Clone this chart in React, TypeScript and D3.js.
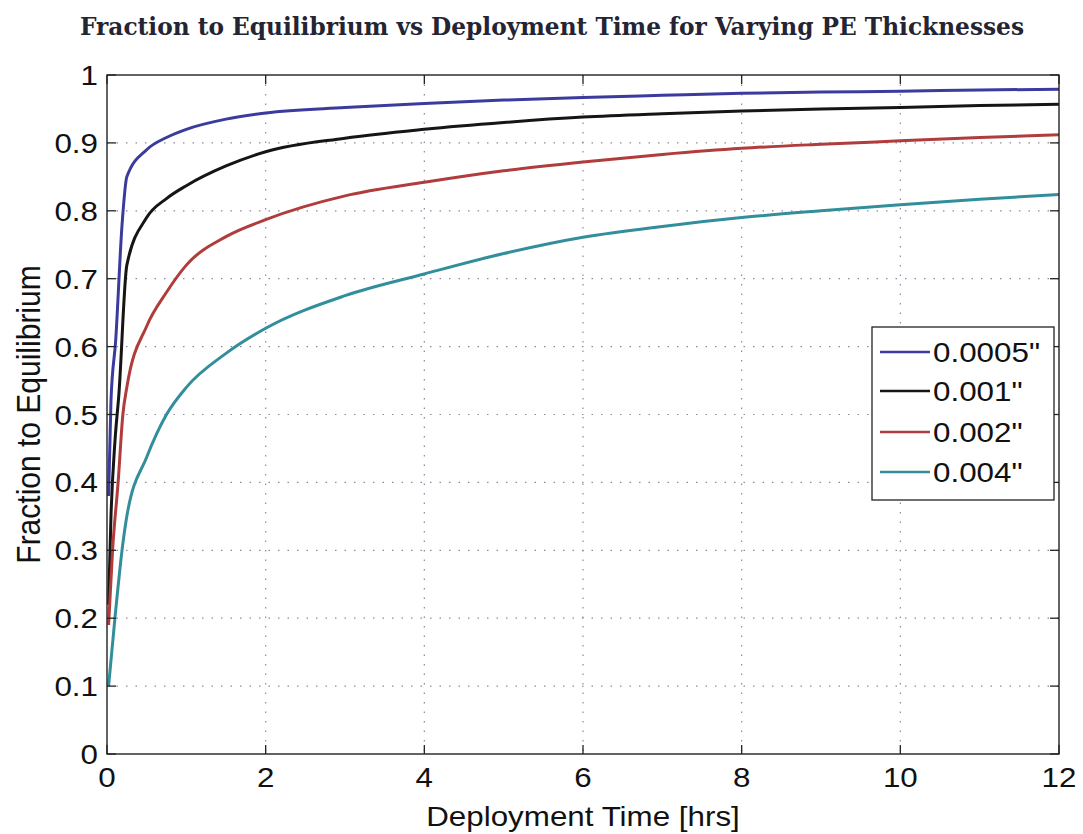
import React from "react";
import * as d3 from "d3";

const title = "Fraction to Equilibrium vs Deployment Time for Varying PE Thicknesses";
const xLabel = "Deployment Time [hrs]";
const yLabel = "Fraction to Equilibrium";

const xTicks = [0, 2, 4, 6, 8, 10, 12];
const yTicks = [0, 0.1, 0.2, 0.3, 0.4, 0.5, 0.6, 0.7, 0.8, 0.9, 1];

const seriesNames = ['0.0005"', '0.001"', '0.002"', '0.004"'];
const seriesColors = ["#3b3b9e", "#151515", "#b03c3c", "#338e9c"];

const tBlue = [0.02, 0.05, 0.11, 0.19, 0.25, 0.5, 0.75, 1, 1.5, 2, 3, 4, 5, 6, 7, 8, 9, 10, 11, 12];
const vBlue = [0.38, 0.52, 0.61, 0.78, 0.85, 0.89, 0.908, 0.92, 0.935, 0.944, 0.952, 0.958, 0.963, 0.967, 0.970, 0.973, 0.975, 0.976, 0.978, 0.979];

const tBlack = [0.02, 0.05, 0.1, 0.15, 0.25, 0.5, 0.75, 1, 1.5, 2, 3, 4, 5, 6, 7, 8, 9, 10, 11, 12];
const vBlack = [0.22, 0.35, 0.46, 0.53, 0.72, 0.79, 0.818, 0.837, 0.866, 0.887, 0.907, 0.92, 0.93, 0.938, 0.943, 0.947, 0.95, 0.952, 0.955, 0.957];

const tRed = [0.02, 0.07, 0.14, 0.2, 0.25, 0.5, 0.75, 1, 1.5, 2, 3, 4, 5, 6, 7, 8, 9, 10, 11, 12];
const vRed = [0.19, 0.3, 0.4, 0.5, 0.54, 0.63, 0.68, 0.72, 0.762, 0.787, 0.822, 0.842, 0.859, 0.872, 0.883, 0.892, 0.898, 0.903, 0.908, 0.912];

const tCyan = [0.02, 0.1, 0.2, 0.25, 0.5, 0.75, 1, 1.5, 2, 3, 4, 5, 6, 7, 8, 9, 10, 11, 12];
const vCyan = [0.1, 0.2, 0.31, 0.35, 0.437, 0.5, 0.54, 0.59, 0.627, 0.675, 0.707, 0.737, 0.761, 0.777, 0.79, 0.8, 0.809, 0.817, 0.824];

const seriesT = [tBlue, tBlack, tRed, tCyan];
const seriesV = [vBlue, vBlack, vRed, vCyan];

const FONT = "'Liberation Sans', Arial, sans-serif";
const SX = 1.12;

function SText(props: { x: number; y: number; anchor?: string; dy?: string; size?: number; children: React.ReactNode }) {
  const { x, y, anchor = "start", dy = "0", size = 28, children } = props;
  return (
    <text
      transform={`translate(${x},${y}) scale(${SX},1)`}
      dy={dy}
      textAnchor={anchor}
      fontFamily={FONT}
      fontSize={size}
      fill="#111"
    >
      {children}
    </text>
  );
}

export default function App() {
  const W = 1083, H = 834;
  const m = { left: 107, right: 1059, top: 75, bottom: 754 };
  const x = d3.scaleLinear().domain([0, 12]).range([m.left, m.right]);
  const y = d3.scaleLinear().domain([0, 1]).range([m.bottom, m.top]);
  const line = d3.line<[number, number]>()
    .x((d) => x(d[0]))
    .y((d) => y(d[1]))
    .curve(d3.curveMonotoneX);
  const tickLen = 9;
  const gridStyle = { stroke: "#8a8aa0", strokeWidth: 1.2, strokeDasharray: "1.5,8" };

  const legend = { x0: 872, y0: 327, x1: 1054, y1: 500, rows: [352, 391, 432, 472] };

  return (
    <svg width={W} height={H} style={{ position: "absolute", left: 0, top: 0, background: "#fff" }}>
      <rect x={0} y={0} width={W} height={H} fill="#fff" />
      <text
        x={552}
        y={35}
        textAnchor="middle"
        fontFamily="'DejaVu Serif Condensed', 'DejaVu Serif', serif"
        fontStretch="condensed"
        fontWeight="bold"
        fontSize={25}
        fill="#242433"
        textLength={944}
        lengthAdjust="spacingAndGlyphs"
      >
        {title}
      </text>
      {/* grid */}
      {xTicks.slice(1, -1).map((t) => (
        <line key={"gx" + t} x1={x(t)} x2={x(t)} y1={m.top} y2={m.bottom} style={gridStyle} />
      ))}
      {yTicks.slice(1, -1).map((t) => (
        <line key={"gy" + t} x1={m.left} x2={m.right} y1={y(t)} y2={y(t)} style={gridStyle} />
      ))}
      {/* series */}
      {seriesT.map((ts, i) => (
        <path
          key={"s" + i}
          d={line(ts.map((t, j) => [t, seriesV[i][j]] as [number, number])) || ""}
          fill="none"
          stroke={seriesColors[i]}
          strokeWidth={3}
          strokeLinejoin="round"
        />
      ))}
      {/* frame */}
      <rect x={m.left} y={m.top} width={m.right - m.left} height={m.bottom - m.top} fill="none" stroke="#222" strokeWidth={1.4} />
      {/* ticks */}
      {xTicks.map((t) => (
        <g key={"tx" + t}>
          <line x1={x(t)} x2={x(t)} y1={m.bottom} y2={m.bottom - tickLen} stroke="#222" strokeWidth={1.3} />
          <line x1={x(t)} x2={x(t)} y1={m.top} y2={m.top + tickLen} stroke="#222" strokeWidth={1.3} />
          <SText x={x(t)} y={787} anchor="middle">{d3.format("d")(t)}</SText>
        </g>
      ))}
      {yTicks.map((t) => (
        <g key={"ty" + t}>
          <line x1={m.left} x2={m.left + tickLen} y1={y(t)} y2={y(t)} stroke="#222" strokeWidth={1.3} />
          <line x1={m.right} x2={m.right - tickLen} y1={y(t)} y2={y(t)} stroke="#222" strokeWidth={1.3} />
          <SText x={98} y={y(t)} anchor="end" dy="0.36em">
            {t === 0 || t === 1 ? String(t) : d3.format(".1f")(t)}
          </SText>
        </g>
      ))}
      {/* axis labels */}
      <SText x={x(6)} y={826} anchor="middle">{xLabel}</SText>
      <text
        transform={`translate(40,${(m.top + m.bottom) / 2}) rotate(-90) scale(1,${SX})`}
        textAnchor="middle"
        fontFamily={FONT}
        fontSize={30}
        fill="#111"
      >
        {yLabel}
      </text>
      {/* legend */}
      <rect x={legend.x0} y={legend.y0} width={legend.x1 - legend.x0} height={legend.y1 - legend.y0} fill="#fff" stroke="#222" strokeWidth={1.3} />
      {seriesNames.map((n, i) => (
        <g key={"l" + i}>
          <line x1={880} x2={930} y1={legend.rows[i]} y2={legend.rows[i]} stroke={seriesColors[i]} strokeWidth={2.4} />
          <SText x={933} y={legend.rows[i]} dy="0.36em">{n}</SText>
        </g>
      ))}
    </svg>
  );
}
